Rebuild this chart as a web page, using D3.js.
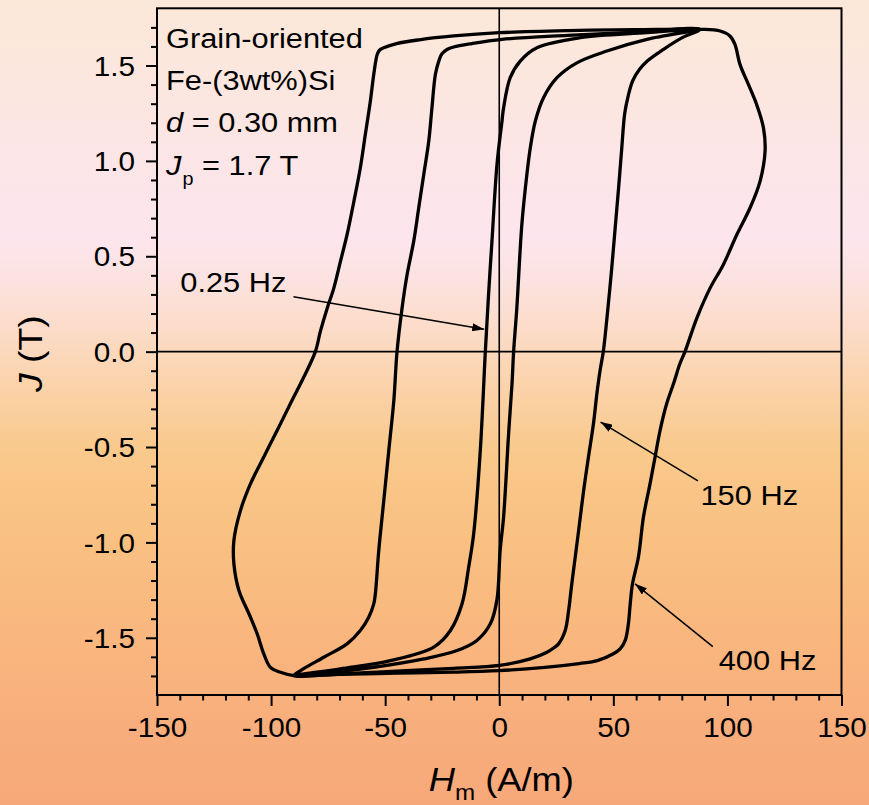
<!DOCTYPE html>
<html><head><meta charset="utf-8">
<script src="https://cdn.jsdelivr.net/npm/d3@7"></script>
<style>html,body{margin:0;padding:0;overflow:hidden;background:#fff;} svg{display:block;}</style>
</head><body>
<svg id="chart" width="869" height="805"></svg>
<script>
// ---------- data (H in A/m, J in T) ----------
const loopLabels = ["0.25 Hz", "150 Hz", "400 Hz"];

// 0.25 Hz loop
const asc025 = [[-90,-1.698],[-76.9,-1.686],[-55,-1.655],[-33.1,-1.611],[-18.5,-1.567],[-9.8,-1.514],[-3.9,-1.427],[-1,-1.3],[0.4,-1.04],[1.9,-0.867],[4.1,-0.43],[5.6,-0.167],[6.3,0],[7.7,0.228],[9.9,0.666],[12.1,0.928],[13.6,1.068],[15.8,1.208],[19.4,1.331],[25.3,1.436],[34,1.514],[47.2,1.576],[64.7,1.637],[88,1.69]];
const desc025 = [[88,1.69],[64.7,1.672],[35.5,1.646],[16.5,1.593],[9.2,1.523],[4.8,1.436],[1.9,1.278],[1.2,1.208],[-1,0.98],[-3.2,0.578],[-4.6,0.316],[-6.1,0],[-8.3,-0.517],[-11.2,-0.954],[-13.4,-1.13],[-16.3,-1.322],[-21.4,-1.462],[-28.7,-1.549],[-47.7,-1.62],[-69.6,-1.663],[-90,-1.698]];

// 150 Hz loop
const asc150 = [[-90,-1.698],[-70,-1.69],[-45,-1.675],[-20,-1.66],[0,-1.645],[13.6,-1.611],[20.9,-1.576],[24,-1.552],[26,-1.532],[28.9,-1.462],[30.4,-1.357],[31.8,-1.217],[33.3,-1.077],[34.8,-0.937],[37,-0.727],[39.1,-0.552],[41.3,-0.377],[42.8,-0.219],[44.2,-0.097],[45.6,0],[47.2,0.176],[49.3,0.438],[50.8,0.648],[52.3,0.858],[53.7,1.068],[55,1.25],[56.5,1.34],[58.5,1.42],[61.5,1.48],[65,1.525],[72,1.585],[80,1.645],[88,1.69]];
const desc150 = [[88,1.69],[60,1.675],[30,1.658],[1.2,1.637],[-12,1.615],[-20,1.597],[-22.9,1.584],[-25.2,1.56],[-26.5,1.523],[-28,1.453],[-29.5,1.278],[-30.9,1.103],[-33.1,0.928],[-35.3,0.753],[-37.5,0.578],[-40.4,0.403],[-42.6,0.228],[-44.8,0],[-46.2,-0.255],[-48.4,-0.517],[-50.6,-0.78],[-52.8,-1.042],[-54.3,-1.269],[-55,-1.322],[-57.2,-1.392],[-60.9,-1.462],[-66.7,-1.532],[-76.9,-1.602],[-87.1,-1.672],[-90,-1.698]];

// 400 Hz loop
const asc400 = [[-90,-1.698],[-70,-1.692],[-45,-1.685],[-20,-1.68],[0,-1.672],[20,-1.655],[35,-1.635],[43,-1.62],[50,-1.584],[53,-1.558],[55.2,-1.514],[56.6,-1.427],[57.4,-1.322],[58.4,-1.217],[61,-1.077],[63.2,-0.867],[66.1,-0.692],[68.3,-0.552],[70.5,-0.412],[73.4,-0.272],[76.4,-0.167],[79.2,-0.062],[81.4,0],[86.6,0.176],[92.4,0.333],[98.2,0.456],[104.1,0.613],[109.9,0.753],[114.3,0.893],[116.5,1.051],[115.8,1.173],[112.8,1.296],[109.2,1.401],[105.5,1.506],[103.3,1.611],[101.1,1.655],[96.8,1.681],[88,1.69]];
const desc400 = [[88,1.69],[60,1.688],[30,1.683],[0,1.672],[-20,1.655],[-35,1.635],[-45,1.615],[-50.6,1.593],[-52.5,1.58],[-53.5,1.558],[-55,1.453],[-56.5,1.313],[-58.7,1.138],[-60.9,0.963],[-63.7,0.788],[-66.7,0.613],[-69.6,0.473],[-72.5,0.333],[-75.4,0.228],[-78.4,0.106],[-80.6,0],[-85.6,-0.132],[-91.5,-0.272],[-97.3,-0.412],[-103.2,-0.552],[-109,-0.692],[-113.4,-0.832],[-116.3,-0.99],[-116.3,-1.112],[-114.1,-1.252],[-109.7,-1.374],[-106.1,-1.479],[-103.2,-1.584],[-100.3,-1.655],[-95.9,-1.681],[-90,-1.698]];

const xTickValues = [-150, -100, -50, 0, 50, 100, 150];
const yTickValues = [-1.5, -1.0, -0.5, 0.0, 0.5, 1.0, 1.5];
const xDomain = [-150, 150];
const yDomain = [-1.8, 1.8];

// label anchors (data units): text position, arrow start, arrow end
const labelText   = ["0.25 Hz", "150 Hz", "400 Hz"];
const labelPos    = [[-139.8, 0.311], [88.2, -0.806], [96.2, -1.668]];
const arrowStart  = [[-90.2, 0.288], [87.1, -0.678], [93.6, -1.546]];
const arrowEnd    = [[-6.6, 0.117], [44.4, -0.369], [59.5, -1.217]];

// ---------- drawing ----------
const svg = d3.select("#chart");
const W = 869, Hh = 805;
const FONT = "'Liberation Sans', Arial, Helvetica, sans-serif";
const SX = 1.1; // horizontal text stretch

const defs = svg.append("defs");
const grad = defs.append("linearGradient").attr("id","bg").attr("x1",0).attr("y1",0).attr("x2",0).attr("y2",1);
[[0,"#fce8d8"],[0.12,"#fce6e0"],[0.24,"#fce5ea"],[0.3,"#fce5ec"],[0.35,"#fce2df"],[0.41,"#fcdcc8"],[0.48,"#fbd3aa"],[0.56,"#f9c98c"],[0.66,"#f9c182"],[0.8,"#f9b67e"],[0.9,"#f8ae7c"],[1,"#f7a87a"]]
  .forEach(([o,c]) => grad.append("stop").attr("offset", o).attr("stop-color", c));

defs.append("marker").attr("id","arr").attr("markerUnits","userSpaceOnUse")
  .attr("viewBox","0 0 12 8").attr("refX",12).attr("refY",4)
  .attr("markerWidth",12).attr("markerHeight",8).attr("orient","auto")
  .append("path").attr("d","M0,0 L12,4 L0,8 z").attr("fill","#000");

svg.append("rect").attr("width",W).attr("height",Hh).attr("fill","url(#bg)");

const x = d3.scaleLinear().domain(xDomain).range([157, 841.5]);
const y = d3.scaleLinear().domain(yDomain).range([695, 8.3]);

// zero lines
svg.append("line").attr("x1", x(xDomain[0])).attr("x2", x(xDomain[1])).attr("y1", y(0)).attr("y2", y(0))
  .attr("stroke","#000").attr("stroke-width",1.6);
svg.append("line").attr("x1", x(0)).attr("x2", x(0)).attr("y1", y(yDomain[0])).attr("y2", y(yDomain[1]))
  .attr("stroke","#000").attr("stroke-width",1.6);

// loops
const line = d3.line().x(d => x(d[0])).y(d => y(d[1])).curve(d3.curveCatmullRomClosed.alpha(0.5));
const loops = [[asc025, desc025], [asc150, desc150], [asc400, desc400]];
svg.append("g").selectAll("path").data(loops).join("path")
  .attr("d", ([a, d]) => line(a.concat(d.slice(1, -1))))
  .attr("fill","none").attr("stroke","#000").attr("stroke-width",3.3)
  .attr("stroke-linejoin","round");

// frame
svg.append("rect").attr("x", x(xDomain[0])).attr("y", y(yDomain[1]))
  .attr("width", x(xDomain[1]) - x(xDomain[0])).attr("height", y(yDomain[0]) - y(yDomain[1]))
  .attr("fill","none").attr("stroke","#000").attr("stroke-width",2);

const fmt = v => (v < 0 ? "-" : "") + Math.abs(v).toFixed(1);

// minor ticks
const xMinor = d3.range(-140, 150, 10).filter(v => !xTickValues.includes(v));
const yMinor = d3.range(-17, 18, 1).map(v => v / 10).filter(v => !yTickValues.some(t => Math.abs(t - v) < 1e-9));

const xAxisMinor = svg.append("g").attr("transform", `translate(0,${y(yDomain[0])})`)
  .call(d3.axisBottom(x).tickValues(xMinor).tickSize(5.5).tickFormat(""));
const yAxisMinor = svg.append("g").attr("transform", `translate(${x(xDomain[0])},0)`)
  .call(d3.axisLeft(y).tickValues(yMinor).tickSize(6).tickFormat(""));

const xAxis = svg.append("g").attr("transform", `translate(0,${y(yDomain[0])})`)
  .call(d3.axisBottom(x).tickValues(xTickValues).tickSize(11).tickPadding(12).tickFormat(d => String(d)));
const yAxis = svg.append("g").attr("transform", `translate(${x(xDomain[0])},0)`)
  .call(d3.axisLeft(y).tickValues(yTickValues).tickSize(11).tickPadding(9).tickFormat(fmt));

[xAxisMinor, yAxisMinor, xAxis, yAxis].forEach(g => {
  g.select(".domain").remove();
  g.selectAll(".tick line").attr("stroke","#000").attr("stroke-width",2);
});
[xAxis, yAxis].forEach(g => g.selectAll(".tick text")
  .attr("font-family", FONT).attr("font-size", 27).attr("fill","#000")
  .attr("transform", `scale(${SX},1)`));
xAxis.selectAll(".tick text").attr("dy","0.72em");
yAxis.selectAll(".tick text").attr("dy","0.36em");

// axis titles
const xt = svg.append("text").attr("transform", `translate(${x(0) + 2},791) scale(${SX},1)`)
  .attr("text-anchor","middle").attr("font-family", FONT).attr("font-size", 33).attr("fill","#000");
xt.append("tspan").attr("font-style","italic").text("H");
xt.append("tspan").attr("font-size", 22).attr("dy", 9).attr("dx", 0).text("m");
xt.append("tspan").attr("dy", -9).text(" (A/m)");

const yt = svg.append("text").attr("transform", `translate(42,${y(0) + 2}) rotate(-90) scale(${SX},1)`)
  .attr("text-anchor","middle").attr("font-family", FONT).attr("font-size", 34).attr("fill","#000");
yt.append("tspan").attr("font-style","italic").text("J");
yt.append("tspan").text(" (T)");

// material annotation block
const blockX = 166;
const blockBase = [47.5, 89.8, 131.5, 174.7];
svg.append("text").attr("transform", `translate(${blockX},${blockBase[0]}) scale(${SX},1)`)
  .attr("font-family", FONT).attr("font-size", 28).text("Grain-oriented");
svg.append("text").attr("transform", `translate(${blockX},${blockBase[1]}) scale(${SX},1)`)
  .attr("font-family", FONT).attr("font-size", 28).text("Fe-(3wt%)Si");
const t3 = svg.append("text").attr("transform", `translate(${blockX},${blockBase[2]}) scale(${SX},1)`)
  .attr("font-family", FONT).attr("font-size", 28);
t3.append("tspan").attr("font-style","italic").text("d");
t3.append("tspan").text(" = 0.30 mm");
const t4 = svg.append("text").attr("transform", `translate(${blockX},${blockBase[3]}) scale(${SX},1)`)
  .attr("font-family", FONT).attr("font-size", 28);
t4.append("tspan").attr("font-style","italic").text("J");
t4.append("tspan").attr("font-size", 18).attr("dy", 10).attr("dx", 1).text("p");
t4.append("tspan").attr("dy", -10).text(" = 1.7 T");

// frequency labels with arrows
const lab = svg.append("g");
labelText.forEach((t, i) => {
  lab.append("line")
    .attr("x1", x(arrowStart[i][0])).attr("y1", y(arrowStart[i][1]))
    .attr("x2", x(arrowEnd[i][0])).attr("y2", y(arrowEnd[i][1]))
    .attr("stroke","#000").attr("stroke-width",1.5).attr("marker-end","url(#arr)");
  lab.append("text")
    .attr("transform", `translate(${x(labelPos[i][0])},${y(labelPos[i][1])}) scale(${SX},1)`)
    .attr("font-family", FONT).attr("font-size", 28).attr("fill","#000").text(t);
});
</script>
</body></html>
